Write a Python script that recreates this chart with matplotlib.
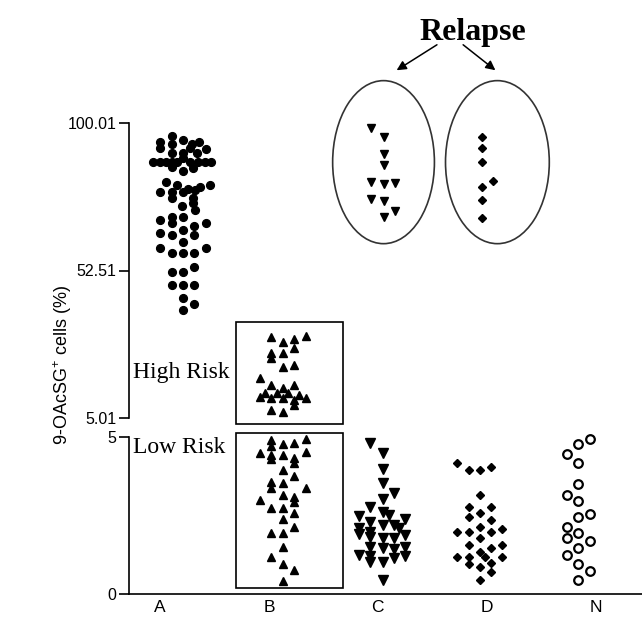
import matplotlib.pyplot as plt
from matplotlib.patches import Ellipse, Rectangle

plt.rcParams['font.family'] = ['Liberation Sans', 'DejaVu Sans']
plt.rcParams['mathtext.fontset'] = 'custom'
plt.rcParams['mathtext.rm'] = 'Liberation Sans'
plt.rcParams['mathtext.it'] = 'Liberation Sans'

categories = ['A', 'B', 'C', 'D', 'N']

# group A (upper scale), jitter in category widths
a_vals = [95.8, 93.9, 93.2, 94.5, 93.2, 93.9, 92.0, 90.3, 90.3, 92.0, 90.3, 91.6,
          87.4, 87.4, 87.4, 87.4, 87.4, 87.4, 87.4, 87.4, 87.4, 88.7,
          86.0, 85.5, 84.6,
          81.0, 80.0, 77.8, 77.8, 77.8, 78.7, 78.4, 79.4, 80.0, 75.8, 75.8, 73.3, 74.2,
          72.0, 68.8, 69.7, 69.7, 67.8, 65.5, 66.8, 67.8, 64.6, 63.9, 63.9, 61.7,
          59.8, 58.1, 58.1, 58.1, 59.8, 53.6, 52.0, 52.0, 47.8, 47.8, 47.8,
          43.6, 41.7, 39.8]
a_jit = [-0.08, -0.20, -0.08, 0.03, 0.12, 0.19, -0.20, -0.08, 0.03, 0.10, 0.17, 0.26,
         -0.27, -0.20, -0.14, -0.08, -0.03, 0.10, 0.18, 0.25, 0.31, 0.03,
         -0.08, 0.13, 0.03,
         -0.14, -0.03, -0.20, -0.08, 0.03, 0.08, 0.15, 0.20, 0.30, -0.08, 0.13, 0.02, 0.13,
         0.15, -0.20, -0.08, 0.03, -0.08, 0.03, 0.14, 0.26, -0.20, -0.08, 0.14, 0.03,
         -0.20, -0.08, 0.03, 0.14, 0.26, 0.14, -0.08, 0.03, -0.08, 0.03, 0.14,
         0.03, 0.14, 0.03]

# group B, high risk (upper scale)
b_high_vals = [31.2, 29.5, 30.5, 31.4, 25.9, 25.9, 27.5, 24.3, 21.4, 22.1,
               17.9, 15.6, 14.7, 15.6, 11.8, 13.1, 11.4, 13.1, 11.4, 13.1,
               10.8, 12.4, 11.4, 7.6, 7.0, 9.2]
b_high_jit = [-0.10, 0.02, 0.13, 0.25, -0.10, 0.02, 0.13, -0.10, 0.02, 0.13,
              -0.21, -0.10, 0.02, 0.13, -0.21, -0.16, -0.10, -0.04, 0.02, 0.07,
              0.13, 0.18, 0.25, -0.10, 0.02, 0.13]

# group B, low risk (lower scale)
b_low_vals = [4.90, 4.78, 4.81, 4.94, 4.70, 4.49, 4.43, 4.30, 4.43, 4.33, 4.17, 4.52,
              3.95, 3.76, 3.57, 3.38, 3.54, 3.38, 2.99, 3.15, 3.09, 2.93, 2.74, 2.74,
              2.58, 2.39, 2.13, 1.94, 1.94, 1.50, 1.18, 0.96, 0.75, 0.41]
b_low_jit = [-0.10, 0.02, 0.13, 0.25, -0.10, -0.21, -0.10, -0.10, 0.02, 0.13, 0.13, 0.25,
             0.02, 0.13, -0.10, -0.10, 0.02, 0.25, -0.21, 0.02, 0.13, 0.13, -0.10, 0.02,
             0.13, 0.02, 0.13, -0.10, 0.02, 0.02, -0.10, 0.02, 0.13, 0.02]

# group C (lower scale) and its relapse cases (upper scale)
c_vals = [4.81, 4.49, 3.98, 3.54, 3.22, 3.03, 2.77, 2.61, 2.52, 2.48, 2.39, 2.29,
          2.20, 2.20, 2.10, 2.10, 1.91, 1.97, 1.82, 1.78, 1.78, 1.88, 1.50, 1.47,
          1.43, 1.50, 1.24, 1.21, 1.02, 1.15, 1.21, 1.02, 0.45]
c_jit = [-0.11, 0.01, 0.01, 0.01, 0.12, 0.01, -0.11, 0.01, 0.07, -0.22, 0.23, -0.11,
         0.01, 0.12, 0.17, -0.22, -0.22, -0.11, -0.11, 0.01, 0.12, 0.23, -0.11, 0.01,
         0.12, 0.23, -0.22, -0.11, 0.01, 0.12, 0.23, -0.11, 0.01]
c_rel_vals = [98.3, 95.5, 90.0, 86.5, 81.0, 80.4, 80.7, 75.5, 74.9, 71.7, 69.7]
c_rel_jit = [-0.10, 0.02, 0.02, 0.02, -0.10, 0.02, 0.13, -0.10, 0.02, 0.13, 0.02]

# group D (lower scale) and its relapse cases (upper scale)
d_vals = [4.17, 3.95, 3.95, 4.05, 3.15, 2.77, 2.77, 2.45, 2.58, 2.36, 2.13, 1.97,
          1.97, 1.97, 2.07, 1.78, 1.56, 1.47, 1.56, 1.34, 1.18, 1.18, 1.18, 1.18,
          0.96, 0.99, 0.86, 0.70, 0.45]
d_jit = [-0.25, -0.13, -0.02, 0.09, -0.02, -0.13, 0.09, -0.13, -0.02, 0.09, -0.02, -0.25,
         -0.13, 0.09, 0.20, -0.02, -0.13, 0.09, 0.20, -0.02, -0.25, -0.13, 0.03, 0.20,
         -0.13, 0.09, -0.02, 0.09, -0.02]
d_rel_vals = [95.5, 91.9, 87.5, 79.4, 81.3, 75.2, 69.4]
d_rel_jit = [0.0, 0.0, 0.0, 0.0, 0.11, 0.0, 0.0]

# group N (lower scale)
n_vals = [4.94, 4.78, 4.46, 4.17, 3.50, 3.15, 2.96, 2.55, 2.45, 2.13, 1.94, 1.78,
          1.69, 1.47, 1.24, 0.96, 0.73, 0.45]
n_jit = [0.07, -0.05, -0.16, -0.05, -0.05, -0.16, -0.05, 0.07, -0.05, -0.16, -0.05, -0.16,
         0.07, -0.05, -0.16, -0.05, 0.07, -0.05]

# category labels do not sit exactly under the point clouds
label_pos = [-0.20, 0.89, 1.96, 3.05, 4.13]

W, H = 642, 621
fig = plt.figure(figsize=(W / 100, H / 100), dpi=100)
ax_top = fig.add_axes([129 / W, (H - 418) / H, (W - 129) / W, (418 - 123) / H])
ax_bot = fig.add_axes([129 / W, (H - 594) / H, (W - 129) / W, (594 - 437) / H])

xlim = (-0.506, 4.585)
for ax in (ax_top, ax_bot):
    ax.set_xlim(*xlim)
    for s in ('top', 'right'):
        ax.spines[s].set_visible(False)
    ax.spines['left'].set_linewidth(1.2)
    ax.tick_params(axis='y', direction='out', length=7, width=1.2, labelsize=11.5, pad=2)

ax_top.spines['bottom'].set_visible(False)
ax_top.set_ylim(5.01, 100.01)
ax_top.set_yticks([5.01, 52.51, 100.01])
ax_top.set_yticklabels(['5.01', '52.51', '100.01'])
ax_top.set_xticks([])

ax_bot.set_ylim(0, 5)
ax_bot.set_yticks([0, 5])
ax_bot.set_yticklabels(['0', '5'])
ax_bot.spines['bottom'].set_linewidth(1.2)
ax_bot.set_xticks(label_pos)
ax_bot.set_xticklabels(categories)
ax_bot.tick_params(axis='x', length=0, labelsize=12.5, pad=4)


def pts(ax, i, jit, vals, **kw):
    ax.plot([i + j for j in jit], vals, linestyle='none', color='black', clip_on=False, **kw)


pts(ax_top, 0, a_jit, a_vals, marker='o', ms=5.6)
pts(ax_top, 1, b_high_jit, b_high_vals, marker='^', ms=6.3)
pts(ax_bot, 1, b_low_jit, b_low_vals, marker='^', ms=6.3)
pts(ax_bot, 2, c_jit, c_vals, marker='v', ms=6.5)
pts(ax_top, 2, c_rel_jit, c_rel_vals, marker='v', ms=6)
pts(ax_bot, 3, d_jit, d_vals, marker='D', ms=4.3)
pts(ax_top, 3, d_rel_jit, d_rel_vals, marker='D', ms=4)
pts(ax_bot, 4, n_jit, n_vals, marker='o', ms=6.2, mfc='white', mew=1.6)

# relapse ellipses
for cx, w in ((2.02, 1.01), (3.15, 1.03)):
    ax_top.add_patch(Ellipse((cx, 87.4), w, 52.5, fill=False, lw=1.2,
                             ec='#333333', clip_on=False))

ax_top.text(2.91, 129, 'Relapse', family='Liberation Serif', weight='bold',
            fontsize=23, ha='center', va='center')
for tip, tail in (((2.15, 117.0), (2.55, 125.2)), ((3.13, 117.0), (2.81, 125.2))):
    ax_top.annotate('', xy=tip, xytext=tail, annotation_clip=False,
                    arrowprops=dict(arrowstyle='-|>', color='black', lw=1.1,
                                    mutation_scale=14, shrinkA=0, shrinkB=0))

# risk boxes
ax_top.add_patch(Rectangle((0.556, 3.08), 1.061, 32.8, fill=False, lw=1.2,
                           ec='black', clip_on=False))
ax_bot.add_patch(Rectangle((0.556, 0.19), 1.061, 4.94, fill=False, lw=1.2,
                           ec='black', clip_on=False))
ax_top.text(-0.47, 19.8, 'High Risk', family='Liberation Serif', fontsize=17,
            ha='left', va='center')
ax_bot.text(-0.47, 4.68, 'Low Risk', family='Liberation Serif', fontsize=17,
            ha='left', va='center')

fig.text(63 / W, 1 - 365 / H, '9-OAcSG$^{+}$ cells (%)', rotation=90,
         ha='center', va='center', fontsize=13)

fig.savefig('out.png', dpi=100)
